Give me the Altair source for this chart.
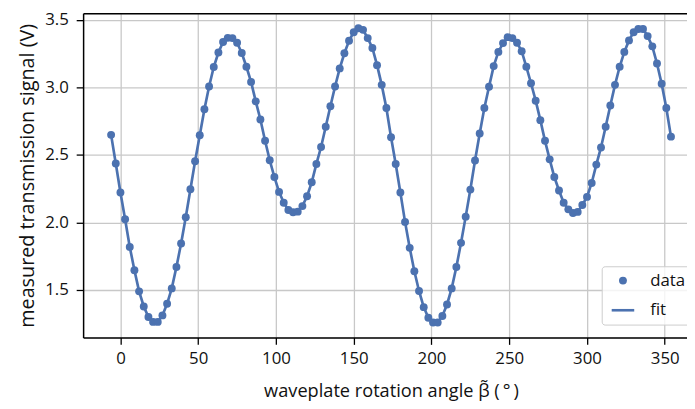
import altair as alt
import pandas as pd

angle_deg = [
    -6, -3, 0, 3, 6, 9, 12, 15, 18, 21, 24, 27, 30, 33, 36, 39, 42, 45, 48, 51,
    54, 57, 60, 63, 66, 69, 72, 75, 78, 81, 84, 87, 90, 93, 96, 99, 102, 105, 108, 111,
    114, 117, 120, 123, 126, 129, 132, 135, 138, 141, 144, 147, 150, 153, 156, 159, 162, 165, 168, 171,
    174, 177, 180, 183, 186, 189, 192, 195, 198, 201, 204, 207, 210, 213, 216, 219, 222, 225, 228, 231,
    234, 237, 240, 243, 246, 249, 252, 255, 258, 261, 264, 267, 270, 273, 276, 279, 282, 285, 288, 291,
    294, 297, 300, 303, 306, 309, 312, 315, 318, 321, 324, 327, 330, 333, 336, 339, 342, 345, 348, 351,
    354,
]

signal_v = [
    2.648, 2.436, 2.222, 2.024, 1.819, 1.646, 1.490, 1.378, 1.300, 1.264,
    1.264, 1.312, 1.398, 1.512, 1.670, 1.844, 2.039, 2.246, 2.453, 2.645,
    2.838, 3.006, 3.150, 3.257, 3.335, 3.366, 3.364, 3.330, 3.254, 3.152,
    3.040, 2.896, 2.762, 2.604, 2.460, 2.336, 2.226, 2.146, 2.092, 2.075,
    2.080, 2.121, 2.194, 2.297, 2.433, 2.558, 2.708, 2.860, 3.006, 3.140,
    3.252, 3.344, 3.408, 3.437, 3.425, 3.364, 3.291, 3.164, 3.018, 2.847,
    2.630, 2.433, 2.222, 2.004, 1.812, 1.639, 1.493, 1.373, 1.295, 1.259,
    1.259, 1.308, 1.393, 1.512, 1.670, 1.849, 2.043, 2.243, 2.458, 2.658,
    2.847, 3.004, 3.157, 3.262, 3.327, 3.371, 3.364, 3.330, 3.267, 3.152,
    3.030, 2.901, 2.757, 2.604, 2.467, 2.336, 2.236, 2.146, 2.097, 2.070,
    2.078, 2.129, 2.189, 2.292, 2.428, 2.555, 2.708, 2.865, 3.018, 3.152,
    3.262, 3.347, 3.408, 3.432, 3.432, 3.379, 3.303, 3.176, 3.026, 2.847,
    2.635,
]

x_ticks = [0, 50, 100, 150, 200, 250, 300, 350]
y_ticks = [1.5, 2.0, 2.5, 3.0, 3.5]
series_names = ["data", "fit"]

df = pd.DataFrame({"beta": angle_deg, "signal": signal_v})

BLUE = "#4c72b0"
FONT = "Open Sans"

x_scale = alt.Scale(domain=[-24, 364.3], nice=False, zero=False)
y_scale = alt.Scale(domain=[1.149, 3.548], nice=False, zero=False)

y_axis = alt.Axis(
    values=y_ticks, format=".1f", title="measured transmission signal (V)",
    grid=True, gridColor="#c8c8c8", gridWidth=1.3,
    domainColor="black", domainWidth=1.5, tickColor="black", tickWidth=1.3,
    tickSize=7, labelPadding=8, labelFontSize=17, titleFontSize=20,
    titleFontWeight="normal", titlePadding=7, labelColor="#111", titleColor="#111",
    labelFont=FONT, titleFont=FONT,
)

x_axis_bottom = alt.Axis(
    values=x_ticks, format="d", title="waveplate rotation angle \u03b2\u0303 (\u2009\u00b0\u2009)",
    grid=True, gridColor="#c8c8c8", gridWidth=1.3,
    domainColor="black", domainWidth=1.5, tickColor="black", tickWidth=1.3,
    tickSize=7, labelPadding=6, labelFontSize=17, titleFontSize=18.4,
    titleFontWeight="normal", titlePadding=16, titleX=311.5, labelColor="#111",
    titleColor="#111", labelFont=FONT, titleFont=FONT, labelFlush=False,
)

x_axis_top = alt.Axis(
    orient="top", labels=False, ticks=False, grid=False, title=None,
    domainColor="black", domainWidth=1.5,
)

line = alt.Chart(df).mark_line(color=BLUE, strokeWidth=2.7).encode(
    x=alt.X("beta:Q", scale=x_scale, axis=x_axis_bottom),
    y=alt.Y("signal:Q", scale=y_scale, axis=y_axis),
)

points = alt.Chart(df).transform_calculate(series="'data'").mark_point(
    filled=True, color=BLUE, size=64, opacity=1
).encode(
    x=alt.X("beta:Q", scale=x_scale, axis=x_axis_top),
    y=alt.Y("signal:Q", scale=y_scale, axis=y_axis),
    shape=alt.Shape(
        "series:N",
        scale=alt.Scale(
            domain=series_names,
            range=["circle", "M-2.85,-0.33H2.85V0.33H-2.85Z"],
        ),
        legend=alt.Legend(
            title=None, orient="none", legendX=524.7, legendY=256,
            padding=6, rowPadding=12, symbolSize=64,
            symbolFillColor=BLUE, symbolOffset=7,
            labelOffset=19, labelFontSize=17, labelFont=FONT, labelColor="#111",
            strokeColor="#cccccc", fillColor="rgba(255,255,255,0.8)",
            cornerRadius=3,
        ),
    ),
)

chart = alt.layer(points, line).resolve_axis(x="independent").properties(
    width=611, height=328,
    autosize=alt.AutoSizeParams(type="none"),
    padding={"left": 76, "top": 3, "right": 0, "bottom": 62},
).configure_view(stroke=None).configure(background="white")

chart.save("out.html", embed_options={"renderer": "svg", "actions": False})
